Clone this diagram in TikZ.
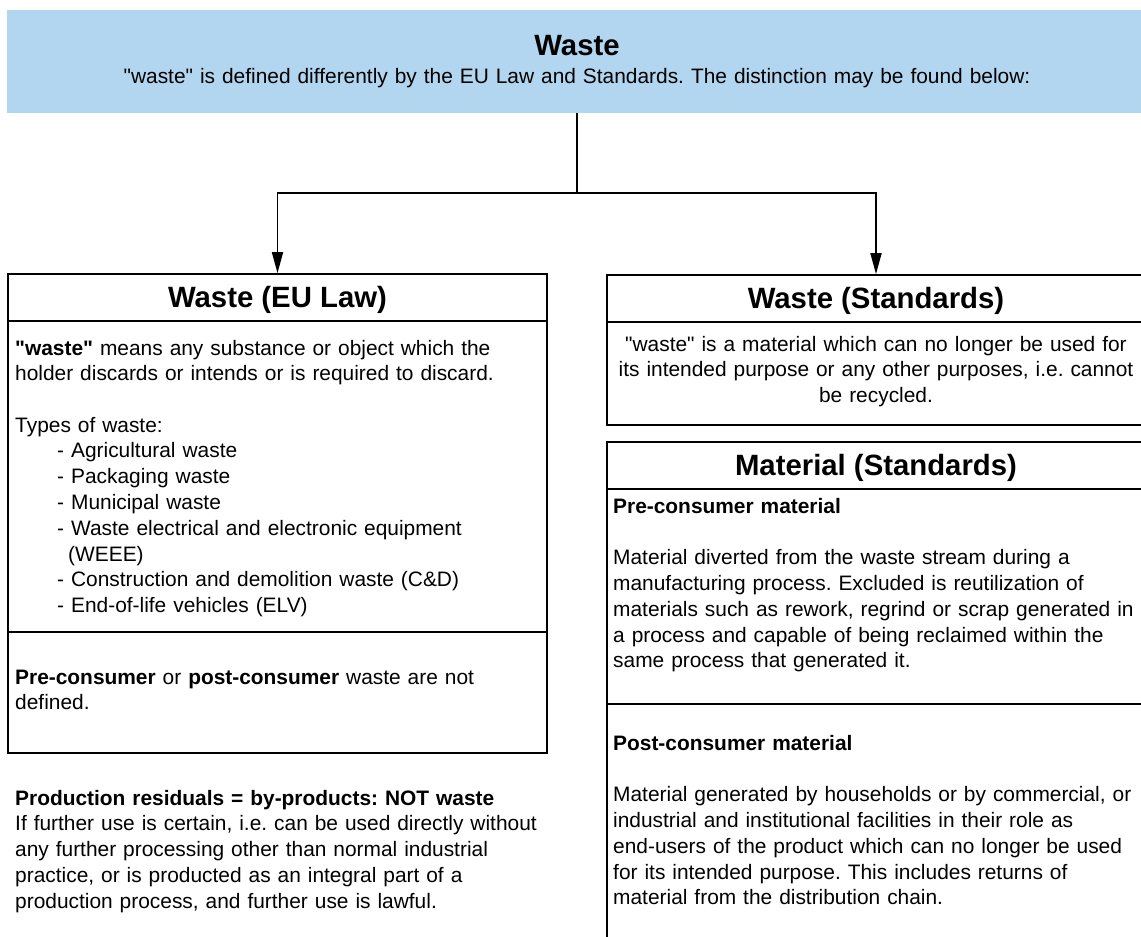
\documentclass[tikz,border=0pt]{standalone}
\usepackage{fontspec}
\setmainfont{Liberation Sans}
\usetikzlibrary{arrows.meta}
\definecolor{headblue}{RGB}{178,214,239}
\newcommand{\dq}{\textquotedbl}
\tikzset{
  frame/.style={draw=black, line width=1.7pt, fill=white, rectangle, inner sep=0pt},
  divider/.style={draw=black, line width=1.7pt},
  conn/.style={draw=black, line width=1.7pt, -{Triangle[length=21pt,width=11pt]}},
  plainline/.style={draw=black, line width=1.7pt},
  bodytext/.style={font=\frenchspacing\fontsize{20.9}{25.8}\selectfont, text width=600pt, align=left, anchor=base west, inner sep=0pt},
  centertext/.style={font=\frenchspacing\fontsize{20.9}{25.8}\selectfont, text width=600pt, align=center, anchor=base, inner sep=0pt},
  titletext/.style={font=\bfseries\fontsize{29.33}{34}\selectfont, anchor=base, inner sep=0pt}
}
\begin{document}
\begin{tikzpicture}[x=1pt,y=-1pt]
\useasboundingbox (0,0) rectangle (1141,937);
\clip (0,0) rectangle (1141,937);

% header band
\node[rectangle, fill=headblue, inner sep=0pt, minimum width=1140pt, minimum height=103pt] (hdr) at (577,61.5) {};
\node[titletext] (hdrtitle) at (577,55.5) {Waste};
\node[centertext, text width=1000pt] (hdrsub) at (577,83) {\dq waste\dq{} is defined differently by the EU Law and Standards. The distinction may be found below:};

% boxes
\node[frame, minimum width=539pt, minimum height=479pt] (eu) at (277.5,513.5) {};
\node[frame, minimum width=538pt, minimum height=150pt] (ws) at (876,350) {};
\node[frame, minimum width=538pt, minimum height=520pt] (mat) at (876,702) {};

% section dividers
\draw[divider] (eu.north west) ++(0,48) -- ++(539,0);
\draw[divider] (eu.north west) ++(0,359) -- ++(539,0);
\draw[divider] (ws.north west) ++(0,48) -- ++(538,0);
\draw[divider] (mat.north west) ++(0,48) -- ++(538,0);
\draw[divider] (mat.north west) ++(0,263) -- ++(538,0);

% connectors
\draw[plainline] (hdr.south) -- ++(0,80) coordinate (split);
\draw[conn] (split) -| (eu.north);
\draw[conn] (split) -| (ws.north);

% titles
\node[titletext] (eutitle) at (277.5,307) {Waste (EU Law)};
\node[titletext] (wstitle) at (876,308) {Waste (Standards)};
\node[titletext] (mattitle) at (876,475) {Material (Standards)};

% EU law box
\node[bodytext] (eudef) at (15,355) {\textbf{\dq waste\dq} means any substance or object which the\\holder discards or intends or is required to discard.};
\node[bodytext] (eutypes) at (15,432) {Types of waste:\\
\hspace*{42pt}- Agricultural waste\\
\hspace*{42pt}- Packaging waste\\
\hspace*{42pt}- Municipal waste\\
\hspace*{42pt}- Waste electrical and electronic equipment\\
\hspace*{53pt}(WEEE)\\
\hspace*{42pt}- Construction and demolition waste (C\&D)\\
\hspace*{42pt}- End-of-life vehicles (ELV)};
\node[bodytext] (eunote) at (15,684) {\textbf{Pre-consumer} or \textbf{post-consumer} waste are not\\defined.};

% by-products note
\node[bodytext] (byprod) at (15,805) {\textbf{Production residuals = by-products: NOT waste}\\
If further use is certain, i.e. can be used directly without\\
any further processing other than normal industrial\\
practice, or is producted as an integral part of a\\
production process, and further use is lawful.};

% standards boxes
\node[centertext] (wsdef) at (876,351) {\dq waste\dq{} is a material which can no longer be used for\\its intended purpose or any other purposes, i.e. cannot\\be recycled.};
\node[bodytext] (premat) at (613,513) {\textbf{Pre-consumer material}\\[25.8pt]
Material diverted from the waste stream during a\\
manufacturing process. Excluded is reutilization of\\
materials such as rework, regrind or scrap generated in\\
a process and capable of being reclaimed within the\\
same process that generated it.};
\node[bodytext] (postmat) at (613,750) {\textbf{Post-consumer material}\\[25.8pt]
Material generated by households or by commercial, or\\
industrial and institutional facilities in their role as\\
end-users of the product which can no longer be used\\
for its intended purpose. This includes returns of\\
material from the distribution chain.};
\end{tikzpicture}
\end{document}
